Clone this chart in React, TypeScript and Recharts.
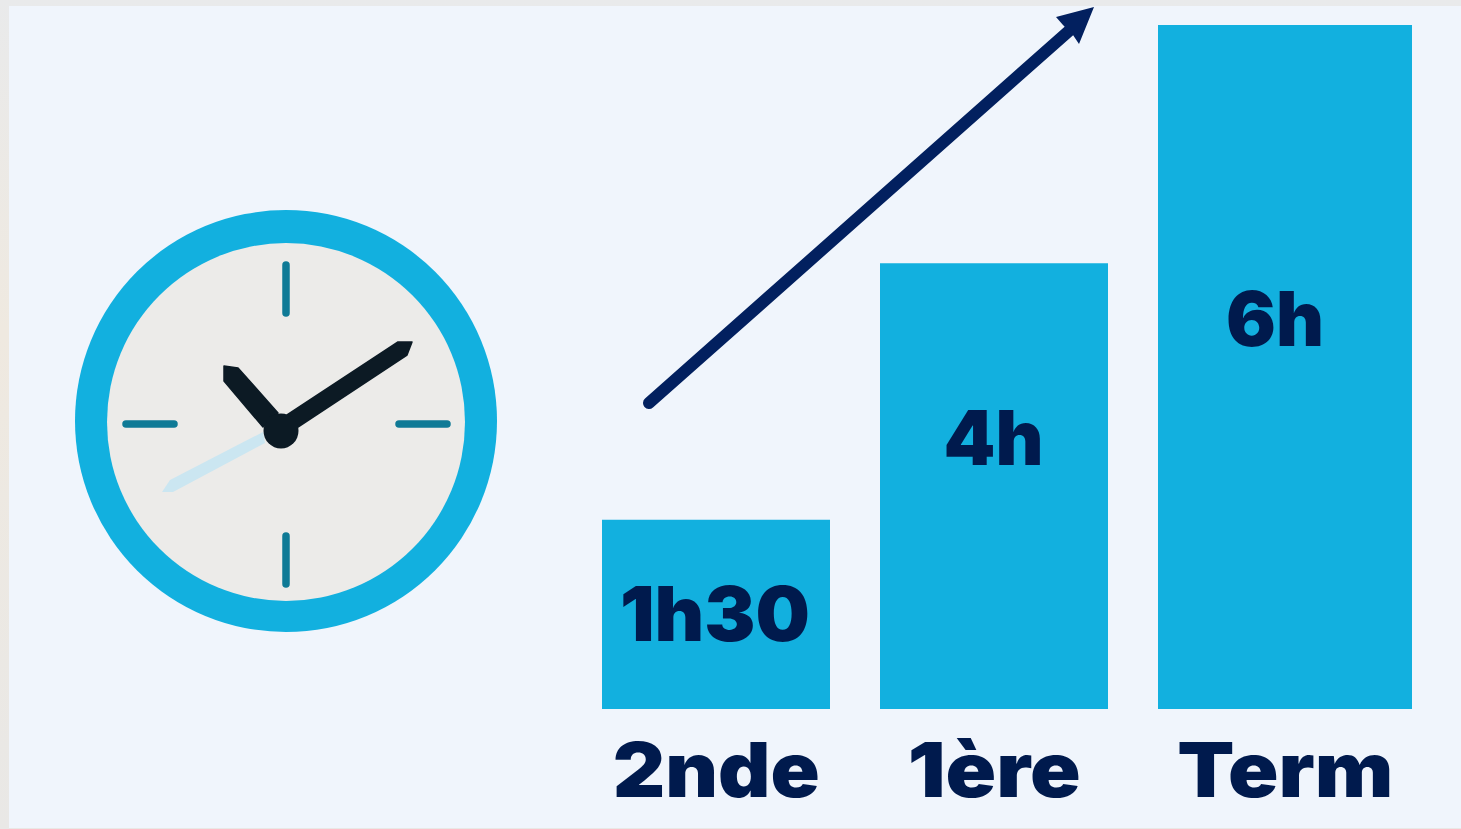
import { BarChart, Bar, XAxis, YAxis, LabelList, Rectangle } from 'recharts';

const levels = ['2nde', '1ère', 'Term'];
const hours = [1.66, 3.91, 6];
const hourLabels = ['1h30', '4h', '6h'];

const chartData = levels.map((level, i) => ({ level, hours: hours[i], label: hourLabels[i] }));

const NAVY = '#001a4d';
const BLUE = '#12b0df';
const FONT = 'Inter, sans-serif';
const FONT_SIZE = 76;

// the original bars are not evenly spaced and the last one is wider
function OffsetBar(props: any) {
  const { x, y, width, height, index } = props;
  const shift = index === 1 ? -6.5 : 0;
  const extra = index === 2 ? 26 : 0;
  return (
    <Rectangle x={x + shift - extra / 2} y={y} width={width + extra} height={height} fill={BLUE} />
  );
}

function HourLabel(props: any) {
  const { x, y, width, value, index } = props;
  const dx = [-1, -7, -10][index];
  const dy = [121, 202, 321][index];
  const len = [190, 100, 98][index];
  return (
    <text
      x={x + width / 2 + dx}
      y={y + dy}
      textAnchor="middle"
      fill={NAVY}
      fontFamily={FONT}
      fontWeight={900}
      fontSize={FONT_SIZE}
      textLength={len}
      lengthAdjust="spacingAndGlyphs"
    >
      {value}
    </text>
  );
}

function LevelTick(props: any) {
  const { x, y, payload, index } = props;
  const len = [207, 173, 216][index];
  return (
    <text
      x={x + (index === 1 ? -6.5 : 0)}
      y={y + 80}
      textAnchor="middle"
      fill={NAVY}
      fontFamily={FONT}
      fontWeight={900}
      fontSize={FONT_SIZE}
      textLength={len}
      lengthAdjust="spacingAndGlyphs"
    >
      {payload.value}
    </text>
  );
}

function Clock() {
  return (
    <g>
      <circle cx={286} cy={421} r={211} fill={BLUE} />
      <circle cx={286} cy={422} r={179} fill="#ecebe9" />
      <g stroke="#0f7a96" strokeWidth={7.5} strokeLinecap="round">
        <line x1={286} y1={265} x2={286} y2={313} />
        <line x1={286} y1={536} x2={286} y2={584} />
        <line x1={126} y1={424} x2={174} y2={424} />
        <line x1={399} y1={424} x2={447} y2={424} />
      </g>
      <polygon points="162,492 173,492 265,443 263,432 170,480" fill="#cbe6f1" />
      <g fill="#0c1a24" stroke="#0c1a24" strokeWidth={1.5} strokeLinejoin="round">
        <polygon points="412,342 398,342 287,415 298,427 407,355" />
        <polygon points="224,366 238,368 278,413 263,427 224,381" />
      </g>
      <circle cx={281} cy={431} r={17.5} fill="#0c1a24" />
    </g>
  );
}

function GrowthArrow() {
  return (
    <g>
      <line x1={649} y1={403} x2={1070} y2={30} stroke="#02205f" strokeWidth={12} strokeLinecap="round" />
      <polygon points="1094,7 1056,17 1063,25 1073,35 1079,44" fill="#02205f" />
    </g>
  );
}

export default function App() {
  return (
    <div style={{ position: 'absolute', left: 0, top: 0, width: 1461, height: 829, overflow: 'hidden', background: 'linear-gradient(#e9eaeb, #efe9e0 40%, #e9e8e6)' }}>
      <div style={{ position: 'absolute', left: 9, top: 6, width: 1452, height: 822, background: '#f0f5fc' }} />
      <div style={{ position: 'absolute', left: 0, top: 0 }}>
        <BarChart
          width={1461}
          height={829}
          data={chartData}
          margin={{ top: 25, right: 33.5, bottom: 0, left: 574 }}
          barSize={228}
        >
          <XAxis dataKey="level" height={120} axisLine={false} tickLine={false} tick={<LevelTick />} interval={0} />
          <YAxis hide domain={[0, 6]} />
          <Bar dataKey="hours" shape={<OffsetBar />} isAnimationActive={false}>
            <LabelList dataKey="label" content={<HourLabel />} />
          </Bar>
          <Clock />
          <GrowthArrow />
        </BarChart>
      </div>
    </div>
  );
}
